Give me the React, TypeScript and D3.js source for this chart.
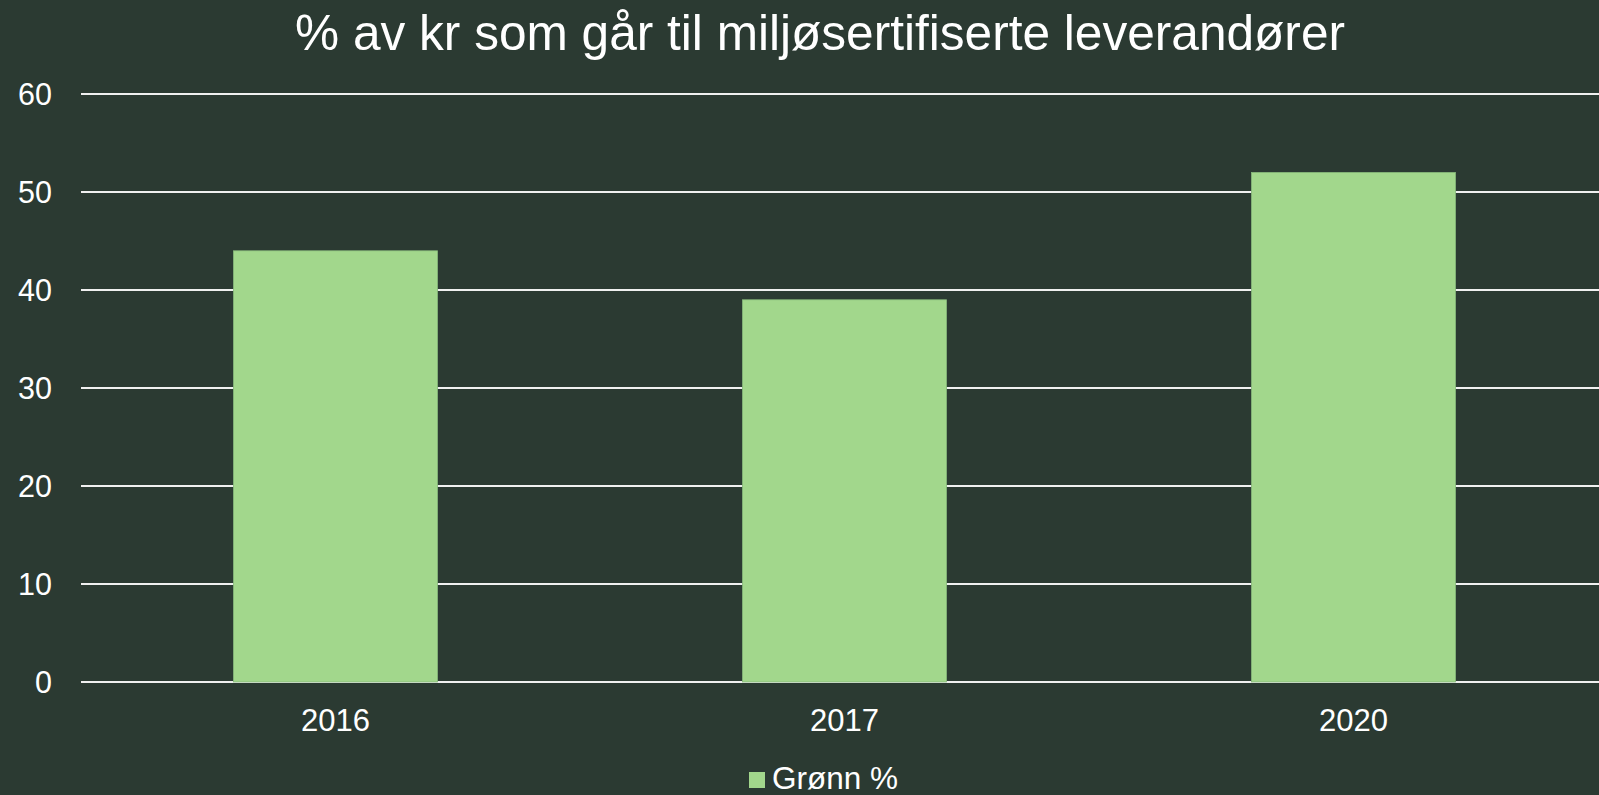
import React from "react";
import * as d3 from "d3";

const categories: string[] = ["2016", "2017", "2020"];
const values: number[] = [44, 39, 52];
const yTicks: number[] = [0, 10, 20, 30, 40, 50, 60];
const seriesName = "Grønn %";
const title = "% av kr som går til miljøsertifiserte leverandører";

const W = 1599;
const H = 795;
const BG = "#2b3a32";
const BAR = "#a2d78c";
const FONT = "'Liberation Sans', Arial, sans-serif";

export default function App() {
  const left = 81;
  const right = 1608;
  const top = 94;
  const bottom = 682;

  const x = d3.scaleBand<string>().domain(categories).range([left, right]).padding(0);
  const y = d3.scaleLinear().domain([0, 60]).range([bottom, top]);
  const barW = x.bandwidth() * 0.401;

  return (
    <div style={{ position: "fixed", left: 0, top: 0, width: W, height: H }}>
      <svg width={W} height={H} style={{ display: "block" }}>
        <rect x={0} y={0} width={W} height={H} fill={BG} />
        <text x={820} y={50} textAnchor="middle" fill="#ffffff" fontFamily={FONT} fontSize={49.6}>
          {title}
        </text>
        {yTicks.map((t) => (
          <g key={t}>
            <line x1={left} x2={W} y1={y(t)} y2={y(t)} stroke="#f0f0f0" strokeWidth={2} />
            <text x={52} y={y(t)} dy="0.35em" textAnchor="end" fill="#ffffff" fontFamily={FONT} fontSize={30.5}>
              {t}
            </text>
          </g>
        ))}
        {categories.map((c, i) => {
          const cx = (x(c) as number) + x.bandwidth() / 2;
          return (
            <g key={c}>
              <rect
                x={cx - barW / 2}
                y={y(values[i])}
                width={barW}
                height={y(0) - y(values[i])}
                fill={BAR}
                stroke="#86b77a"
                strokeWidth={0.8}
              />
              <text x={cx} y={731} textAnchor="middle" fill="#ffffff" fontFamily={FONT} fontSize={31}>
                {c}
              </text>
            </g>
          );
        })}
        <rect x={749} y={772} width={16} height={16} fill={BAR} />
        <text x={772} y={789} fill="#ffffff" fontFamily={FONT} fontSize={31.5}>
          {seriesName}
        </text>
      </svg>
    </div>
  );
}
